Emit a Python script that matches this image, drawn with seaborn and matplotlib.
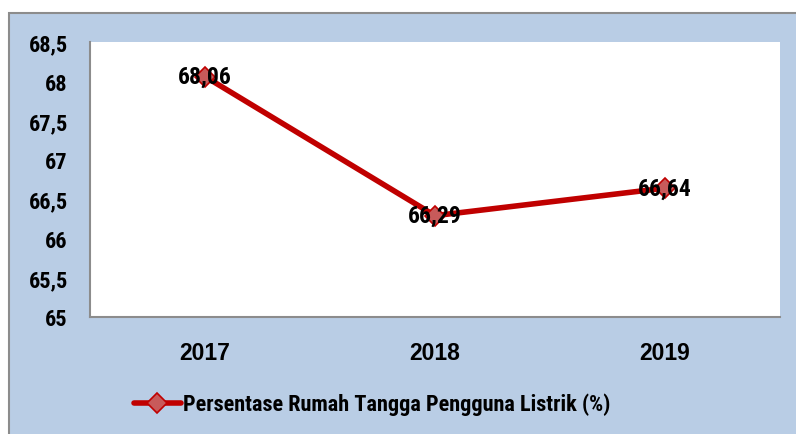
import matplotlib
matplotlib.use("Agg")
import matplotlib.pyplot as plt
import seaborn as sns
import pandas as pd
from matplotlib.patches import Rectangle

# data
tahun = ["2017", "2018", "2019"]
persen = [68.06, 66.29, 66.64]
label_seri = "Persentase Rumah Tangga Pengguna Listrik (%)"

df = pd.DataFrame({"tahun": tahun, "persen": persen})

sns.set_style("white")
narrow = ["Roboto Condensed", "IBM Plex Sans Condensed", "DejaVu Sans"]
wide = ["Liberation Sans", "DejaVu Sans"]
plt.rcParams["font.family"] = narrow
plt.rcParams["text.color"] = "black"
plt.rcParams["xtick.color"] = "black"
plt.rcParams["ytick.color"] = "black"

bg = "#B9CDE5"
fig = plt.figure(figsize=(7.96, 4.35), dpi=100)
fig.patch.set_facecolor("white")
# blue chart-area frame
fig.patches.append(Rectangle((9 / 796, -0.01), 1.0, (435 - 14) / 435 + 0.01,
                             transform=fig.transFigure, facecolor=bg,
                             edgecolor="#8C8C8C", linewidth=1.5, zorder=-10))

ax = fig.add_axes([90 / 796, (435 - 318) / 435, 690 / 796, 275 / 435])
ax.set_facecolor("white")
ax.set_zorder(1)

sns.lineplot(data=df, x="tahun", y="persen", ax=ax, color="#C00000",
             linewidth=4, marker="D", markersize=10,
             markerfacecolor="#C85A5A", markeredgecolor="#C00000",
             markeredgewidth=1.2, label=label_seri)

for i, v in enumerate(persen):
    ax.text(i, v, f"{v:.2f}".replace(".", ","), ha="center", va="center",
            fontsize=17, fontweight="bold", color="black", family=narrow)

ax.set_xlim(-0.5, 2.5)
ax.set_ylim(65, 68.5)
ax.set_yticks([65, 65.5, 66, 66.5, 67, 67.5, 68, 68.5])
ax.set_yticklabels([f"{t:g}".replace(".", ",") for t in ax.get_yticks()],
                   fontsize=16, fontweight="bold", family=narrow)
ax.set_xticks(range(len(tahun)))
ax.set_xticklabels(tahun, fontsize=16.5, fontweight="bold", family=wide)
ax.tick_params(axis="x", length=0, pad=17)
ax.tick_params(axis="y", length=0, pad=16)
ax.set_xlabel("")
ax.set_ylabel("")

for s in ["top", "right"]:
    ax.spines[s].set_visible(False)
for s in ["left", "bottom"]:
    ax.spines[s].set_color("#8C8C8C")
    ax.spines[s].set_linewidth(1.5)

ax.legend(loc="center", bbox_to_anchor=(372 / 796, (435 - 405) / 435),
          bbox_transform=fig.transFigure, frameon=False, handlelength=2.1,
          handletextpad=0.1, labelcolor="black",
          prop={"family": narrow, "weight": "bold", "size": 16})

fig.savefig("out.png", dpi=100)
